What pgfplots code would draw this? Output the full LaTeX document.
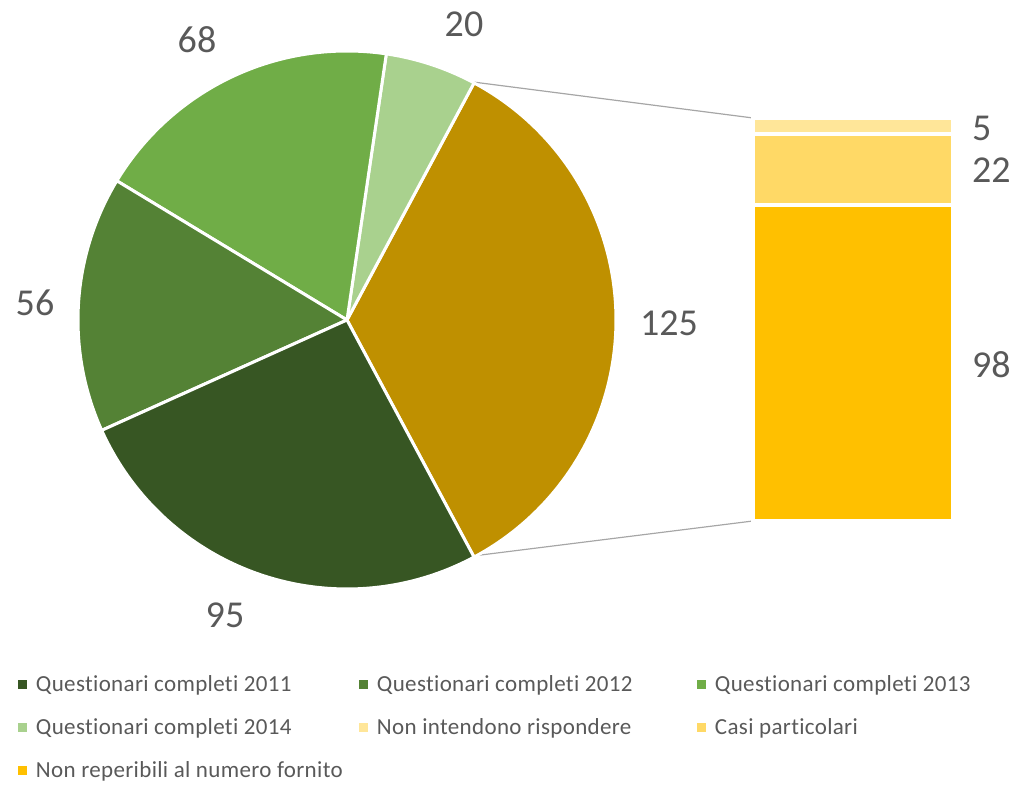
\documentclass[border=0pt]{standalone}
\usepackage{fontspec}
\setmainfont{Carlito}[Ligatures={NoCommon}]
\usepackage{pgfplots}
\pgfplotsset{compat=1.18}
\definecolor{cA}{HTML}{375623}
\definecolor{cB}{HTML}{548235}
\definecolor{cC}{HTML}{70AD47}
\definecolor{cD}{HTML}{A9D18E}
\definecolor{cE}{HTML}{BF9000}
\definecolor{cF}{HTML}{FFC000}
\definecolor{cG}{HTML}{FFD966}
\definecolor{cH}{HTML}{FFE699}
\definecolor{txt}{HTML}{595959}
\definecolor{conn}{HTML}{A6A6A6}
\newcommand\lbl{\fontsize{19}{22}\selectfont}
\newcommand\leg{\fontsize{11.5}{13}\selectfont\addfontfeatures{LetterSpace=1.5}}
\begin{document}
\begin{tikzpicture}
\useasboundingbox (0,0) rectangle (506.5pt,392.5pt);
% pie values
\def\vA{95}\def\vB{56}\def\vC{68}\def\vD{20}\def\vE{125}
\pgfmathsetmacro\tot{\vA+\vB+\vC+\vD+\vE}
\pgfmathsetmacro\k{360/\tot}
\pgfmathsetmacro\aS{-0.5*\k*\vE}
\pgfmathsetmacro\aE{0.5*\k*\vE}
\pgfmathsetmacro\aD{\aE+\k*\vD}
\pgfmathsetmacro\aC{\aD+\k*\vC}
\pgfmathsetmacro\aB{\aC+\k*\vB}
\pgfmathsetmacro\aA{\aB+\k*\vA}
\begin{axis}[at={(0,0)}, anchor=south west, width=506.5pt, height=392.5pt,
  scale only axis, xmin=0, xmax=1013, ymin=0, ymax=785, hide axis, clip=false,
  legend columns=3,
  legend image code/.code={\fill[#1] (0pt,1.25pt) rectangle (4.5pt,5.75pt); \path (9pt,0pt);},
  legend style={at={(axis cs:18,108)}, anchor=north west, draw=none, fill=none,
    inner sep=0pt, outer sep=0pt, column sep=0pt, row sep=11.5pt,
    font=\leg, text=txt,
    nodes={inner sep=0pt, text height=7.5pt, text depth=2.5pt, anchor=base west}},
]
\addplot[forget plot, conn, line width=0.6pt] coordinates {(473,703) (753,667)};
\addplot[forget plot, conn, line width=0.6pt] coordinates {(473,229) (753,264)};
\addplot[forget plot, fill=cE, draw=white, line width=1.5pt, line join=round, domain=\aS:\aE, samples=90] ({347+269*cos(x)},{465+269*sin(x)}) -- (axis cs:347,465) -- cycle;
\addplot[forget plot, fill=cD, draw=white, line width=1.5pt, line join=round, domain=\aE:\aD, samples=30] ({347+269*cos(x)},{465+269*sin(x)}) -- (axis cs:347,465) -- cycle;
\addplot[forget plot, fill=cC, draw=white, line width=1.5pt, line join=round, domain=\aD:\aC, samples=60] ({347+269*cos(x)},{465+269*sin(x)}) -- (axis cs:347,465) -- cycle;
\addplot[forget plot, fill=cB, draw=white, line width=1.5pt, line join=round, domain=\aC:\aB, samples=60] ({347+269*cos(x)},{465+269*sin(x)}) -- (axis cs:347,465) -- cycle;
\addplot[forget plot, fill=cA, draw=white, line width=1.5pt, line join=round, domain=\aB:\aA, samples=80] ({347+269*cos(x)},{465+269*sin(x)}) -- (axis cs:347,465) -- cycle;
\node[font=\lbl, text=txt] at (axis cs:197,745) {68};
\node[font=\lbl, text=txt] at (axis cs:464,761) {20};
\node[font=\lbl, text=txt] at (axis cs:669,462) {125};
\node[font=\lbl, text=txt] at (axis cs:35,482) {56};
\node[font=\lbl, text=txt] at (axis cs:225,170) {95};
\node[font=\lbl, text=txt, anchor=west] at (axis cs:965,657) {5};
\node[font=\lbl, text=txt, anchor=west] at (axis cs:965,615) {22};
\node[font=\lbl, text=txt, anchor=west] at (axis cs:965,420) {98};
\addlegendimage{fill=cA, draw=none}
\addlegendentry{\makebox[161.5pt][l]{Questionari completi 2011}}
\addlegendimage{fill=cB, draw=none}
\addlegendentry{\makebox[160pt][l]{Questionari completi 2012}}
\addlegendimage{fill=cC, draw=none}
\addlegendentry{\makebox[140pt][l]{Questionari completi 2013}}
\addlegendimage{fill=cD, draw=none}
\addlegendentry{\makebox[161.5pt][l]{Questionari completi 2014}}
\addlegendimage{fill=cH, draw=none}
\addlegendentry{\makebox[160pt][l]{Non intendono rispondere}}
\addlegendimage{fill=cG, draw=none}
\addlegendentry{\makebox[140pt][l]{Casi particolari}}
\addlegendimage{fill=cF, draw=none}
\addlegendentry{\makebox[161.5pt][l]{Non reperibili al numero fornito}}
\end{axis}
\begin{axis}[at={(376.5pt,132pt)}, anchor=south west, width=100pt, height=201.5pt,
  scale only axis, xmin=-0.5, xmax=0.5, ymin=0, ymax=125, hide axis, clip=false,
  ybar stacked, bar width=100pt]
\addplot[fill=cF, draw=white, line width=1.75pt] coordinates {(0,98)};
\addplot[fill=cG, draw=white, line width=1.75pt] coordinates {(0,22)};
\addplot[fill=cH, draw=white, line width=1.75pt] coordinates {(0,5)};
\end{axis}
\end{tikzpicture}
\end{document}
